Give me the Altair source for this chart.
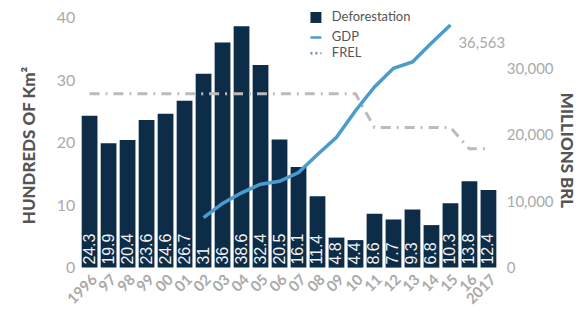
import altair as alt
import pandas as pd

# ---- data ----
years = ["1996", "97", "98", "99", "00", "01", "02", "03", "04", "05", "06",
         "07", "08", "09", "10", "11", "12", "13", "14", "15", "16", "2017"]
deforestation = [24.3, 19.9, 20.4, 23.6, 24.6, 26.7, 31, 36, 38.6, 32.4, 20.5,
                 16.1, 11.4, 4.8, 4.4, 8.6, 7.7, 9.3, 6.8, 10.3, 13.8, 12.4]
gdp_years = ["02", "03", "04", "05", "06", "07", "08", "09", "10", "11", "12",
             "13", "14", "15"]
gdp = [7525, 9680, 11270, 12570, 13020, 14320, 17060, 19650, 23640, 27230,
       30030, 31010, 33860, 36563]
frel = [27.8] * 15 + [22.4] * 5 + [19.0] * 2
series = ["Deforestation", "GDP", "FREL"]

NAVY = "#0d2c48"
BLUE = "#4a9ccc"
GREY = "#bbbbbb"
FONT = "Lato"

bars_df = pd.DataFrame({"year": years, "value": deforestation,
                        "series": "Deforestation"})
frel_df = pd.DataFrame({"year": years, "frel": frel})
gdp_df = pd.DataFrame({"year": gdp_years, "gdp": gdp})
gdp_last = gdp_df.tail(1)

x_enc = alt.X(
    "year:N", sort=years,
    scale=alt.Scale(paddingInner=0.17, paddingOuter=0.05),
    axis=alt.Axis(title=None, domain=False, ticks=False, tickSize=0,
                  labelAngle=315, labelAlign="right", labelBaseline="top",
                  labelPadding=4, labelFont=FONT, labelFontWeight="bold",
                  labelFontSize=15, labelColor="#aaaaaa"),
)

legend = alt.Legend(
    title=None, orient="none", legendX=229, legendY=-7, padding=0,
    labelFont=FONT, labelFontSize=13, labelColor="#555555", labelOffset=9,
    rowPadding=2, symbolSize=121, symbolStrokeWidth=2.5,
    symbolType={"expr": "datum.value === 'Deforestation' ? 'square' : 'stroke'"},
    symbolStrokeColor={"expr": "datum.value === 'GDP' ? '#4a9ccc' : (datum.value === 'FREL' ? '#6a8cb4' : 'transparent')"},
    symbolDash={"expr": "datum.value === 'FREL' ? [2, 3] : [1, 0]"},
)

left_y = alt.Y(
    "value:Q",
    scale=alt.Scale(domain=[0, 40], nice=False),
    axis=alt.Axis(values=[0, 10, 20, 30, 40], grid=False, domain=False,
                  ticks=False, tickSize=0, labelPadding=6, labelFont=FONT,
                  labelFontSize=16, labelColor="#aaaaaa",
                  title="HUNDREDS OF Km²", titleFont=FONT, titleFontSize=17,
                  titleFontWeight=900, titleColor="#555555",
                  titleX=-51, titleY=128, titleAngle=270,
                  titleBaseline="middle"),
)

bars = alt.Chart(bars_df).mark_bar(color=NAVY).encode(
    x=x_enc,
    y=left_y,
    color=alt.Color("series:N",
                    scale=alt.Scale(domain=series, range=[NAVY, BLUE, GREY]),
                    legend=legend),
)

bar_text = alt.Chart(bars_df).mark_text(
    angle=270, align="left", baseline="middle", dx=3,
    font="Liberation Sans", fontSize=16, color="#f2f2f2",
).encode(
    x=alt.X("year:N", sort=years),
    y=alt.datum(0),
    text=alt.Text("value:Q"),
)

frel_line = alt.Chart(frel_df).mark_line(
    color=GREY, strokeWidth=3, strokeDash=[10, 6, 2, 6],
).encode(
    x=alt.X("year:N", sort=years),
    y=alt.Y("frel:Q"),
)

right_axis = alt.Axis(orient="right", values=[0, 10000, 20000, 30000],
                      labelExpr="format(datum.value, ',')",
                      grid=False, domain=False, ticks=False,
                      tickSize=0, labelPadding=9, labelFont=FONT,
                      labelFontSize=15, labelColor="#aaaaaa",
                      title="MILLIONS BRL", titleFont=FONT, titleFontSize=17,
                      titleFontWeight=900, titleColor="#555555",
                      titleX=68, titleY=133, titleAngle=90,
                      titleBaseline="middle")
right_scale = alt.Scale(domain=[0, 37700], nice=False)

gdp_line = alt.Chart(gdp_df).mark_line(color=BLUE, strokeWidth=3.5).encode(
    x=alt.X("year:N", sort=years),
    y=alt.Y("gdp:Q", scale=right_scale, axis=right_axis),
)

gdp_text = alt.Chart(gdp_last).mark_text(
    align="left", baseline="middle", dx=8, dy=18,
    font=FONT, fontSize=15, color="#aaaaaa",
).encode(
    x=alt.X("year:N", sort=years),
    y=alt.Y("gdp:Q", scale=right_scale, axis=right_axis),
    text=alt.Text("gdp:Q", format=","),
)

left = alt.layer(bars, bar_text, frel_line)
right = alt.layer(gdp_line, gdp_text)

chart = alt.layer(left, right).resolve_scale(y="independent").properties(
    width=418, height=251,
    autosize=alt.AutoSizeParams(type="none"),
    padding={"left": 73, "top": 9, "right": 82, "bottom": 38},
).configure_view(stroke=None)

chart.save("out.html", embed_options={"renderer": "svg", "actions": False})
